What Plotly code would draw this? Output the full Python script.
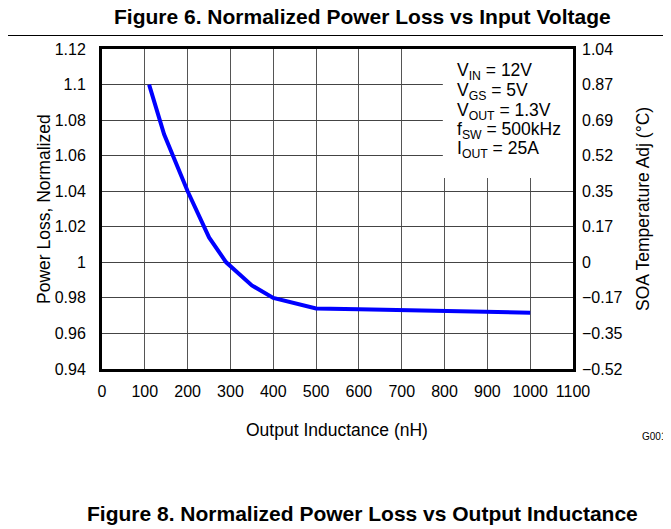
import plotly.graph_objects as go

# ---- data ----
inductance_nH = [110, 145, 200, 250, 290, 350, 400, 500, 600, 700, 800, 900, 1000]
power_loss_norm = [1.100, 1.072, 1.040, 1.014, 1.000, 0.987, 0.980, 0.974,
                   0.9736, 0.9732, 0.9727, 0.9722, 0.9717]

left_ticks = [0.94, 0.96, 0.98, 1.0, 1.02, 1.04, 1.06, 1.08, 1.1, 1.12]
left_ticktext = ["0.94", "0.96", "0.98", "1", "1.02", "1.04", "1.06", "1.08", "1.1", "1.12"]
right_ticktext = ["\u22120.52", "\u22120.35", "\u22120.17", "0", "0.17", "0.35",
                  "0.52", "0.69", "0.87", "1.04"]
right_min, right_max = -0.52, 1.04
x_ticks = [0, 100, 200, 300, 400, 500, 600, 700, 800, 900, 1000, 1100]

conditions = ["V<sub>IN</sub> = 12V", "V<sub>GS</sub> = 5V", "V<sub>OUT</sub> = 1.3V",
              "f<sub>SW</sub> = 500kHz", "I<sub>OUT</sub> = 25A"]

FONT = "Liberation Sans, Arial, sans-serif"

# page body has an 8px margin, so the figure starts at (8, 8) of the window
OFF = 8
W, H = 671 - OFF, 529 - OFF
L, R, T, B = 94, 98, 41, 160
pw, ph = W - L - R, H - T - B


def px_x(p):  # window pixel -> paper x
    return (p - OFF - L) / pw


def px_y(p):  # window pixel -> paper y
    return (H - B - (p - OFF)) / ph


n = len(left_ticks)
right_vals = [right_min + i * (right_max - right_min) / (n - 1) for i in range(n)]

fig = go.Figure()
fig.add_trace(go.Scatter(x=inductance_nH, y=power_loss_norm, mode="lines",
                         line=dict(color="#0000FF", width=4), showlegend=False,
                         hoverinfo="skip"))
fig.add_trace(go.Scatter(x=[], y=[], yaxis="y2", showlegend=False))

fig.update_layout(
    width=W, height=H,
    margin=dict(l=L, r=R, t=T, b=B, pad=0),
    paper_bgcolor="white", plot_bgcolor="white",
    font=dict(family=FONT, size=16, color="black"),
    xaxis=dict(range=[0, 1100], tickvals=x_ticks, showgrid=True,
               gridcolor="#555555", gridwidth=1, showline=True, linecolor="black",
               linewidth=3, mirror=True, ticks="", zeroline=False,
               ticklabelstandoff=6, tickfont=dict(size=16)),
    yaxis=dict(range=[0.94, 1.12], tickvals=left_ticks, ticktext=left_ticktext,
               showgrid=True, gridcolor="#444444", gridwidth=1, showline=True,
               linecolor="black", linewidth=3, mirror=True, ticks="",
               zeroline=False, ticklabelstandoff=10, tickfont=dict(size=16)),
    yaxis2=dict(range=[right_min, right_max], tickvals=right_vals,
                ticktext=right_ticktext, overlaying="y", side="right",
                showgrid=False, zeroline=False, showline=False, ticks="",
                ticklabelstandoff=8, tickfont=dict(size=16)),
)

# white box behind the conditions text (hides the grid there)
fig.add_shape(type="rect", xref="x", yref="y", x0=796, x1=1100, y0=1.0475, y1=1.12,
              fillcolor="white", line=dict(width=0), layer="between")

# rule under the top title
fig.add_shape(type="line", xref="paper", yref="paper", x0=px_x(0), x1=px_x(680),
              y0=px_y(35.5), y1=px_y(35.5), line=dict(color="black", width=1.2))

ann = []
ann.append(dict(text="<b>Figure 6. Normalized Power Loss vs Input Voltage</b>",
                x=px_x(362), y=px_y(16), font=dict(size=21)))
ann.append(dict(text="<b>Figure 8. Normalized Power Loss vs Output Inductance</b>",
                x=px_x(362), y=px_y(513), font=dict(size=21)))
ann.append(dict(text="Output Inductance (nH)", x=px_x(337), y=px_y(430),
                font=dict(size=17.5)))
ann.append(dict(text="Power Loss, Normalized", x=px_x(44), y=px_y(209),
                textangle=-90, font=dict(size=17.5)))
ann.append(dict(text="SOA Temperature Adj (°C)", x=px_x(643), y=px_y(209),
                textangle=-90, font=dict(size=17.5)))
ann.append(dict(text="G001", x=px_x(669), y=px_y(436), xanchor="right",
                font=dict(size=10)))
ys = [71.7, 91.7, 111.7, 130.7, 149.5]
for t, yy in zip(conditions, ys):
    ann.append(dict(text=t, x=px_x(455), y=px_y(yy), xanchor="left",
                    font=dict(size=17.5)))

for a in ann:
    a.setdefault("xanchor", "center")
    a.update(xref="paper", yref="paper", showarrow=False, yanchor="middle")
    fig.add_annotation(**a)

fig.write_html("out.html")
